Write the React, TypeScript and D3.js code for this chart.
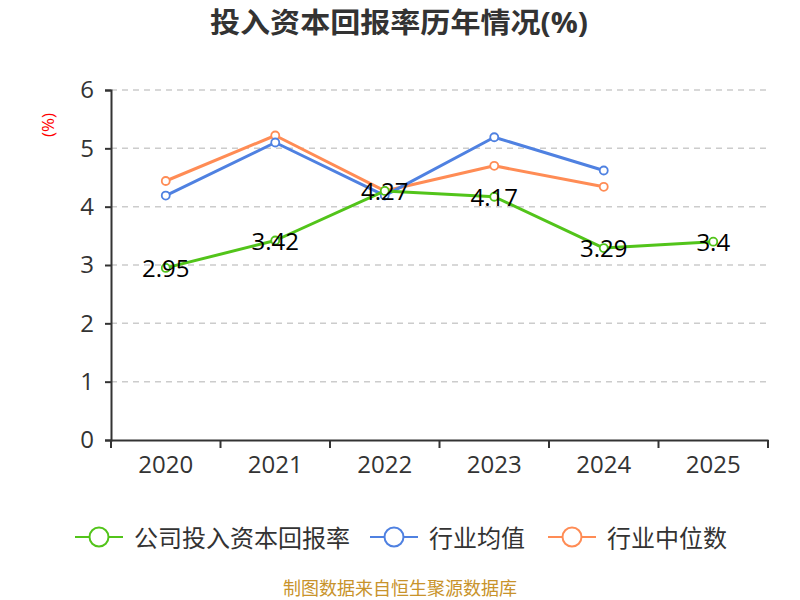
import * as d3 from "d3";
import { useEffect, useRef } from "react";

const years = ["2020", "2021", "2022", "2023", "2024", "2025"];
const companyRoic = [2.95, 3.42, 4.27, 4.17, 3.29, 3.4];
const industryAvg = [4.19, 5.1, 4.19, 5.19, 4.62, null];
const industryMedian = [4.44, 5.22, 4.27, 4.7, 4.34, null];
const yTicks = [0, 1, 2, 3, 4, 5, 6];
const seriesNames = ["公司投入资本回报率", "行业均值", "行业中位数"];
const colors = ["#52c41a", "#4f81e1", "#ff8c55"];

const FONT = "'Open Sans', 'Noto Sans CJK SC', sans-serif";

function drawChart(container: HTMLElement) {
  const width = 800;
  const height = 600;
  const marginLeft = 111;
  const marginRight = 32;
  const marginTop = 90;
  const plotBottom = 440;

  const svg = d3.select(container)
    .append("svg")
    .attr("width", width)
    .attr("height", height)
    .attr("viewBox", [0, 0, width, height])
    .style("font-family", FONT)
    .style("display", "block");

  svg.append("rect").attr("width", width).attr("height", height).attr("fill", "#fff");

  const x = d3.scaleBand<string>().domain(years).range([marginLeft, width - marginRight]);
  const y = d3.scaleLinear().domain([0, 6]).range([plotBottom, marginTop]);
  const cx = (i: number) => x(years[i])! + x.bandwidth() / 2;

  // title
  svg.append("text")
    .attr("x", 399).attr("y", 33)
    .attr("text-anchor", "middle")
    .attr("font-size", 28).attr("font-weight", "bold")
    .attr("fill", "#333")
    .attr("textLength", 378).attr("lengthAdjust", "spacingAndGlyphs")
    .text("投入资本回报率历年情况(%)");

  // y unit
  svg.append("text")
    .attr("transform", "translate(47,125) rotate(-90)")
    .attr("text-anchor", "middle")
    .attr("dominant-baseline", "central")
    .attr("font-size", 17).attr("fill", "#f00")
    .text("(%)");

  // grid
  svg.append("g")
    .selectAll("line")
    .data(yTicks.filter(d => d > 0))
    .join("line")
    .attr("x1", marginLeft).attr("x2", width - marginRight)
    .attr("y1", d => y(d)).attr("y2", d => y(d))
    .attr("stroke", "#ccc").attr("stroke-width", 1.5)
    .attr("stroke-dasharray", "6,5");

  // y axis
  const yAxis = svg.append("g")
    .attr("transform", `translate(${marginLeft},0)`)
    .call(d3.axisLeft(y).tickValues(yTicks).tickSize(6).tickPadding(11).tickFormat(d3.format("d")));
  yAxis.select(".domain").attr("stroke", "#333").attr("stroke-width", 2);
  yAxis.selectAll(".tick line").attr("stroke", "#333").attr("stroke-width", 2);
  yAxis.selectAll(".tick text").attr("font-size", 24).attr("fill", "#333").attr("font-family", FONT);

  // x axis
  const xAxis = svg.append("g")
    .attr("transform", `translate(0,${plotBottom})`)
    .call(d3.axisBottom(x).tickSize(0));
  xAxis.select(".domain").attr("stroke", "#333").attr("stroke-width", 2);
  xAxis.selectAll(".tick text")
    .attr("y", 33).attr("dy", 0)
    .attr("font-size", 24).attr("fill", "#333").attr("font-family", FONT);
  const bounds = d3.range(years.length + 1).map(i => marginLeft + i * x.step());
  xAxis.selectAll(".bound")
    .data(bounds)
    .join("line")
    .attr("class", "bound")
    .attr("x1", d => d).attr("x2", d => d)
    .attr("y1", 0).attr("y2", 8)
    .attr("stroke", "#333").attr("stroke-width", 2);

  const allSeries = [companyRoic, industryAvg, industryMedian];
  const line = d3.line<number | null>()
    .defined(d => d != null)
    .x((_, i) => cx(i))
    .y(d => y(d as number));

  // median and average drawn under company line
  [2, 1, 0].forEach(s => {
    const data = allSeries[s];
    const g = svg.append("g");
    g.append("path")
      .datum(data)
      .attr("d", line)
      .attr("fill", "none")
      .attr("stroke", colors[s])
      .attr("stroke-width", 3)
      .attr("stroke-linejoin", "round");
    g.selectAll("circle")
      .data(data.map((v, i) => ({ v, i })).filter(d => d.v != null))
      .join("circle")
      .attr("cx", d => cx(d.i))
      .attr("cy", d => y(d.v as number))
      .attr("r", 4)
      .attr("fill", "#fff")
      .attr("stroke", colors[s])
      .attr("stroke-width", 1.8);
  });

  // company labels
  svg.append("g")
    .selectAll("text")
    .data(companyRoic)
    .join("text")
    .attr("x", (_, i) => cx(i))
    .attr("y", d => y(d) + 9)
    .attr("text-anchor", "middle")
    .attr("font-size", 24)
    .attr("fill", "#000")
    .text(d => String(d));

  // legend
  const legendX = [75, 370, 548];
  const legendY = 537;
  seriesNames.forEach((name, s) => {
    const g = svg.append("g").attr("transform", `translate(${legendX[s]},${legendY})`);
    g.append("line").attr("x1", 0).attr("x2", 48).attr("y1", 0).attr("y2", 0)
      .attr("stroke", colors[s]).attr("stroke-width", 2);
    g.append("circle").attr("cx", 24).attr("cy", 0).attr("r", 9.5)
      .attr("fill", "#fff").attr("stroke", colors[s]).attr("stroke-width", 2);
    g.append("text").attr("x", 59).attr("y", 0)
      .attr("dominant-baseline", "central")
      .attr("font-size", 24).attr("fill", "#333")
      .text(name);
  });

  // footer
  svg.append("text")
    .attr("x", 400).attr("y", 595)
    .attr("text-anchor", "middle")
    .attr("font-size", 18).attr("fill", "#c8932b")
    .text("制图数据来自恒生聚源数据库");
}

export default function App() {
  const domRef = useRef<HTMLDivElement>(null);
  useEffect(() => {
    if (domRef.current) {
      drawChart(domRef.current);
    }
    return () => {
      if (domRef.current) {
        d3.select(domRef.current).selectAll("svg").remove();
      }
    };
  }, [domRef]);
  return <div ref={domRef} style={{ position: "absolute", left: 0, top: 0, width: 800, height: 600 }}></div>;
}
